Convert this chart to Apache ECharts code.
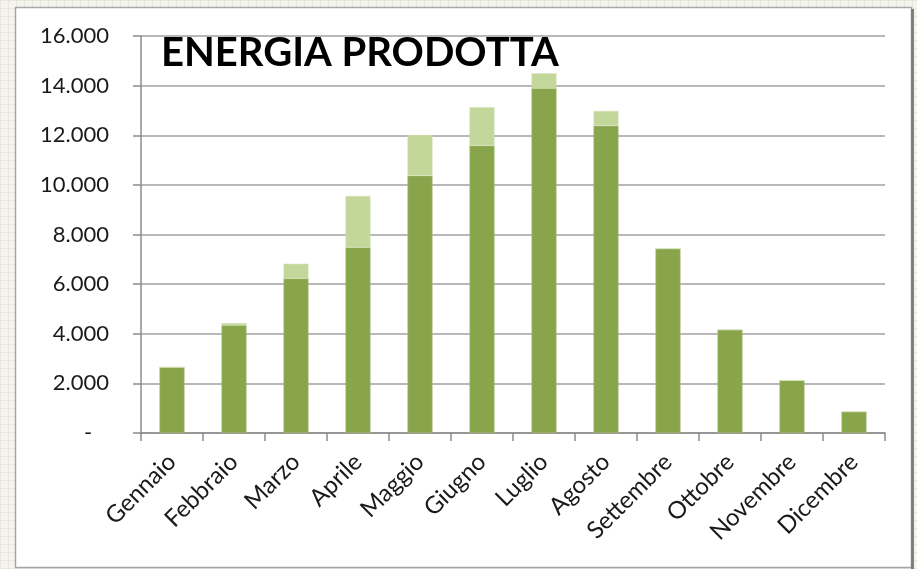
<!DOCTYPE html>
<html>
<head>
<meta charset="utf-8">
<script src="https://cdn.jsdelivr.net/npm/echarts@6/dist/echarts.min.js"></script>
<style>
  html, body { margin: 0; padding: 0; }
  body {
    width: 917px; height: 569px;
    background-color: #f5f4ee;
    background-image:
      repeating-linear-gradient(0deg, rgba(210,210,195,0.35) 0 1px, transparent 1px 8px),
      repeating-linear-gradient(90deg, rgba(210,210,195,0.35) 0 1px, transparent 1px 8px);
  }
  #chart { width: 917px; height: 569px; }
</style>
</head>
<body>
<div id="chart"></div>
<script>
// mesi
const months = ['Gennaio', 'Febbraio', 'Marzo', 'Aprile', 'Maggio', 'Giugno',
  'Luglio', 'Agosto', 'Settembre', 'Ottobre', 'Novembre', 'Dicembre'];
// parte scura (base) e parte chiara sopra, kWh
const baseValues = [2650, 4340, 6230, 7480, 10370, 11580, 13890, 12380, 7430, 4160, 2120, 860];
const extraValues = [0, 90, 590, 2070, 1640, 1550, 610, 600, 0, 0, 0, 0];
const yTicks = [0, 2000, 4000, 6000, 8000, 10000, 12000, 14000, 16000];
const titleText = 'ENERGIA PRODOTTA';

const chart = echarts.init(document.getElementById('chart'));

function fmt(v) {
  if (v === 0) return '-   ';
  return String(v).replace(/\B(?=(\d{3})+(?!\d))/g, '.');
}

const option = {
  backgroundColor: 'transparent',
  animation: false,
  graphic: [
    // area bianca del grafico con bordo
    { type: 'rect', z: -10, shape: { x: 15.5, y: 7.5, width: 896, height: 560 },
      style: { fill: '#ffffff', stroke: '#a6a6a6', lineWidth: 1.5 } },
    { type: 'line', z: -9, shape: { x1: 912.5, y1: 9, x2: 912.5, y2: 569 },
      style: { stroke: '#7f7f7f', lineWidth: 3 } }
  ],
  title: {
    text: titleText,
    left: 156,
    top: 28,
    textStyle: { fontFamily: 'Lato', fontWeight: 'bold', fontSize: 40, color: '#000' }
  },
  grid: { left: 141, right: 32, top: 36, bottom: 136, containLabel: false },
  xAxis: {
    type: 'category',
    data: months,
    boundaryGap: true,
    axisLine: { lineStyle: { color: '#8c8c8c', width: 1.5 } },
    axisTick: { show: true, length: 8, alignWithLabel: false, lineStyle: { color: '#8c8c8c', width: 1.5 } },
    axisLabel: {
      interval: 0, rotate: 45, margin: 25,
      fontFamily: 'Lato', fontSize: 24, color: '#1a1a1a'
    }
  },
  yAxis: {
    type: 'value',
    min: yTicks[0],
    max: yTicks[yTicks.length - 1],
    interval: yTicks[1] - yTicks[0],
    axisLine: { show: true, lineStyle: { color: '#8c8c8c', width: 1.5 } },
    axisTick: { show: true, length: 8, lineStyle: { color: '#8c8c8c', width: 1.5 } },
    splitLine: { lineStyle: { color: '#a0a0a0', width: 1.5 } },
    axisLabel: {
      margin: 32, formatter: fmt,
      fontFamily: 'Lato', fontSize: 22, color: '#1a1a1a'
    }
  },
  series: [
    {
      name: 'base', type: 'bar', stack: 'tot', data: baseValues,
      barWidth: 25,
      itemStyle: { color: '#88a54b', borderColor: '#a9c178', borderWidth: 0.5 }
    },
    {
      name: 'extra', type: 'bar', stack: 'tot', data: extraValues,
      barWidth: 25,
      itemStyle: { color: '#c4d79b', borderColor: '#d6e3bb', borderWidth: 0.5 }
    }
  ]
};

chart.setOption(option);
</script>
</body>
</html>
